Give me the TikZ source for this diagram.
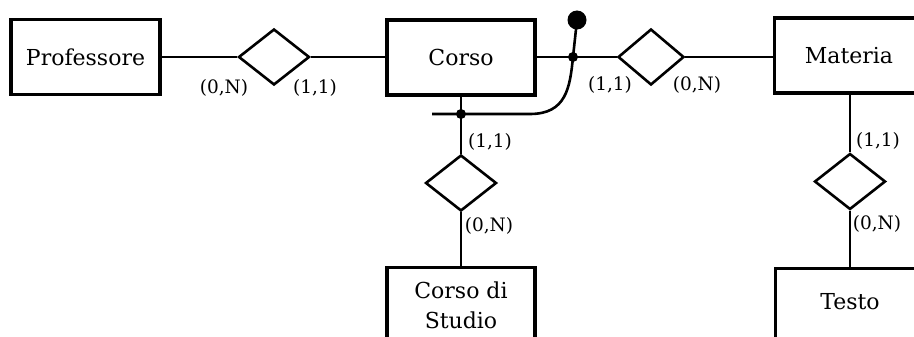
\documentclass[tikz,border=0pt]{standalone}
\usepackage{fontspec}
\setmainfont{DejaVu Serif}
\usetikzlibrary{shapes.geometric}
\begin{document}
\begin{tikzpicture}[x=1pt,y=-1pt,
  entity/.style={draw, line width=3.2pt, minimum width=149pt, minimum height=75pt,
    inner sep=0pt, font=\fontsize{22}{30}\selectfont, align=center},
  rel/.style={draw, diamond, line width=2.6pt, minimum width=71pt, minimum height=56pt, inner sep=0pt},
  card/.style={font=\fontsize{18.5}{20}\selectfont, inner sep=0pt},
  link/.style={line width=2.6pt},
  junction/.style={circle, fill, inner sep=0pt, minimum size=10pt},
  ball/.style={circle, fill, inner sep=0pt, minimum size=19pt}]
\useasboundingbox (0,0) rectangle (914,337);
\clip (0,0) rectangle (914,337);
% entities
\node[entity] (prof) at (85.5,57) {Professore};
\node[entity, minimum width=148pt] (corso) at (461,57.5) {Corso};
\node[entity] (mat) at (849,55.5) {Materia};
\node[entity, minimum width=148pt] (cds) at (461,305) {Corso di\\Studio};
\node[entity, text depth=10pt] (testo) at (850,306) {Testo};
% relationships
\node[rel] (r1) at (274,57) {};
\node[rel, minimum width=66pt] (r2) at (651,57) {};
\node[rel] (r3) at (461,183) {};
\node[rel] (r4) at (850,181.5) {};
% junctions
\node[junction] (j1) at (573,57) {};
\node[junction] (j2) at (461,114) {};
\node[ball] (b) at (577,20) {};
\coordinate (e) at (432,114);
% links
\draw[link] (prof.east |- r1.west) -- (r1.west);
\draw[link] (r1.east) -- (r1.east -| corso.west);
\draw[link] (corso.east |- j1) -- (j1.center) -- (r2.west);
\draw[link] (r2.east) -- (r2.east -| mat.west);
\draw[link] (corso.south) -- (j2.center) -- (r3.north);
\draw[link] (r3.south) -- (r3.south |- cds.north);
\draw[link] (r4.north |- mat.south) -- (r4.north);
\draw[link] (r4.south) -- (r4.south |- testo.north);
\draw[link] (b.center) -- (j1.center) .. controls (570,88) and (566,114) .. (530,114) -- (e);
% cardinalities
\node[card] at (224,88) {(0,N)};
\node[card] at (315,88) {(1,1)};
\node[card] at (610,85) {(1,1)};
\node[card] at (697,85) {(0,N)};
\node[card] at (490,142) {(1,1)};
\node[card] at (489,226) {(0,N)};
\node[card] at (878,141) {(1,1)};
\node[card] at (877,224) {(0,N)};
\end{tikzpicture}
\end{document}
